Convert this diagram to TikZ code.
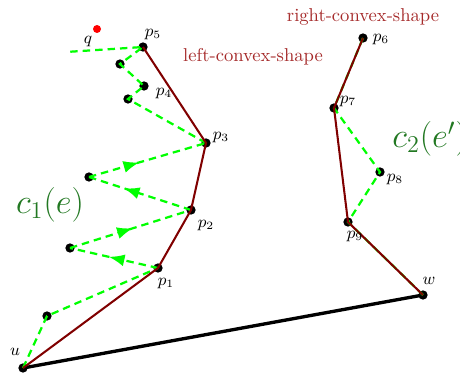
\documentclass[tikz,border=0pt]{standalone}
\usetikzlibrary{arrows.meta,decorations.markings}
\definecolor{shapered}{RGB}{165,42,42}
\definecolor{curvegreen}{RGB}{34,120,34}
\definecolor{chain}{RGB}{128,0,0}
\tikzset{
 dot/.style={circle,fill=black,inner sep=0,minimum size=5pt},
 qdot/.style={circle,fill=red,inner sep=0,minimum size=4.3pt},
 lbl/.style={inner sep=0,font=\small},
 shapelbl/.style={inner sep=0,text=shapered},
 curvelbl/.style={inner sep=0,text=curvegreen,font=\LARGE,scale=1.08},
 chainline/.style={draw=chain,line width=1.1pt},
 dashline/.style={draw=green,line width=1.2pt,dash pattern=on 4pt off 2.7pt},
 baseline/.style={draw=black,line width=1.8pt},
 markat/.style={postaction={decorate},decoration={markings,mark=at position #1 with {\arrow[green,solid]{Latex[length=8.5pt,width=6.5pt]}}}}
}
\begin{document}
\begin{tikzpicture}[x=0.5376pt,y=-0.5376pt]
\useasboundingbox (0,0) rectangle (460,374);
% points
\node[dot] (u) at (23,368) {};
\node[dot] (a0) at (47,316) {};
\node[dot] (p1) at (158,268) {};
\node[dot] (a1) at (70,248) {};
\node[dot] (p2) at (191,210) {};
\node[dot] (a2) at (89,177) {};
\node[dot] (p3) at (206,143) {};
\node[dot] (a3) at (128,99) {};
\node[dot] (p4) at (144,86) {};
\node[dot] (a4) at (120,64) {};
\node[dot] (p5) at (143,47) {};
\coordinate (qend) at (66,52);
\node[qdot] (q) at (97,29) {};
\node[dot] (p6) at (363,38) {};
\node[dot] (p7) at (334,108) {};
\node[dot] (p8) at (380,172) {};
\node[dot] (p9) at (348,222) {};
\node[dot] (w) at (423,295) {};
% base edge
\draw[baseline] (u.center) -- (w.center);
% green dashed walks
\draw[dashline] (u.center) -- (a0.center) -- (p1.center);
\draw[dashline,markat=0.56] (p1.center) -- (a1.center);
\draw[dashline,markat=0.52] (a1.center) -- (p2.center);
\draw[dashline,markat=0.66] (p2.center) -- (a2.center);
\draw[dashline,markat=0.43] (a2.center) -- (p3.center);
\draw[dashline] (p3.center) -- (a3.center) -- (p4.center) -- (a4.center) -- (p5.center) -- (qend);
\draw[dashline] (p6.center) -- (p7.center) -- (p8.center) -- (p9.center) -- (w.center);
% convex chains
\draw[chainline] (u.center) -- (p1.center) -- (p2.center) -- (p3.center) -- (p5.center);
\draw[chainline] (p6.center) -- (p7.center) -- (p9.center) -- (w.center);
% labels
\node[lbl] (lu) at (15,352) {$u$};
\node[lbl] (lw) at (429,281) {$w$};
\node[lbl] (lq) at (88,42) {$q$};
\node[lbl] (l1) at (166,284) {$p_1$};
\node[lbl] (l2) at (206,226) {$p_2$};
\node[lbl] (l3) at (221,138) {$p_3$};
\node[lbl] (l4) at (164,94) {$p_4$};
\node[lbl] (l5) at (153,35) {$p_5$};
\node[lbl] (l6) at (381,40) {$p_6$};
\node[lbl] (l7) at (348,102) {$p_7$};
\node[lbl] (l8) at (395,180) {$p_8$};
\node[lbl] (l9) at (355,237) {$p_9$};
\node[shapelbl] (ls) at (253,57) {left-convex-shape};
\node[shapelbl] (rs) at (363,17) {right-convex-shape};
\node[curvelbl] (c1) at (50,205) {$c_1(e)$};
\node[curvelbl,anchor=west] (c2) at (392,139) {$c_2(e')$};
\end{tikzpicture}
\end{document}
